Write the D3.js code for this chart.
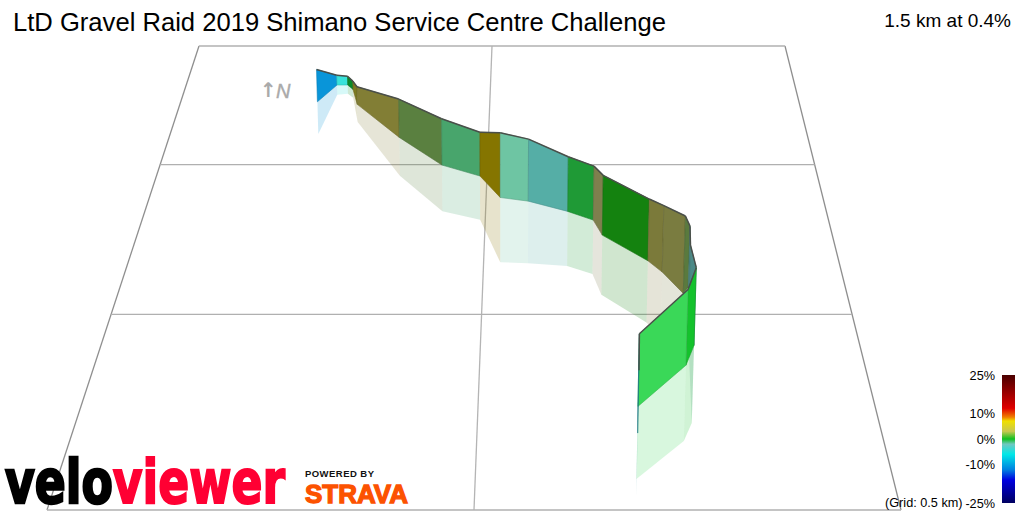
<!DOCTYPE html>
<html>
<head>
<meta charset="utf-8">
<title>LtD Gravel Raid 2019</title>
<script src="https://cdn.jsdelivr.net/npm/d3@7"></script>
<style>
  html, body { margin: 0; padding: 0; background: #fff; }
  svg { display: block; font-family: "Liberation Sans", Arial, sans-serif; }
</style>
</head>
<body>
<svg></svg>
<script>
// route: km east / km north of the grid corner, exaggerated height
var eastKm  = [.2211,.2478,.2654,.2753,.2863,.3604,.4307,.4895,.5210,.5626,.6205,.6573,.6692,.7313,.7498,.7756,.7835,.7847,.7815,.7678,.7013,.6985];
var northKm = [1.251,1.323,1.323,1.304,1.240,1.105,.998,.957,.879,.866,.830,.800,.749,.665,.629,.563,.582,.579,.411,.356,.247,.180];
var heightM = [52.1,15.9,14.3,13.6,28.4,60.0,70.7,66.1,96.2,91.8,80.1,78.6,85.9,86.9,92.7,106.1,84.1,59.2,102.4,98.3,91.5,77.5];

var wallColours = ["#0995d9","#38e2da","#0a8a2a","#7c7a20","#827e35","#5a8040","#48a56c","#857500","#6ec5a3","#55aea6","#1f9a36",
                   "#7f7f4e","#14820f","#7b7a3a","#7a7c40","#5a7a3e","#4d8a86","#4b8a87","#14c22c","#3ad858","#1f8a98"];

var gridEast  = [0, 0.5, 1];
var gridNorth = [0, 0.5, 1, 1.5];

var gradeTicks = [25, 10, 0, -10, -25];
var gradeStops = [
  [25, "#4a0000"], [12, "#e00000"], [8.5, "#f08000"], [7, "#f0e000"], [3, "#c8c850"], [0, "#10c020"],
  [-2, "#70c8c0"], [-6, "#00e8e8"], [-12, "#0080e0"], [-16, "#0000e0"], [-25, "#000060"]
];

var titleText = "LtD Gravel Raid 2019 Shimano Service Centre Challenge";
var summaryText = "1.5 km at 0.4%";
var gridText = "(Grid: 0.5 km)";

var width = 1024;
var height = 512;

var svg = d3.select("svg")
            .attr("width", width)
            .attr("height", height)
            .attr("viewBox", "0 0 1024 512");

// perspective: 1/width of the grid is linear with distance north
var invWidth = d3.scaleLinear().domain([0, 1.5]).range([1 / 854, 1 / 586]);
var rowY = d3.scaleLinear().domain([586, 854]).range([46, 510]);
var leftX = d3.scaleLinear().domain([46, 510]).range([199, 47]);
var heightScale = d3.scaleLinear().domain([0, 1000]).range([0, 1]);

function project(e, n, h){
  var w = 1 / invWidth(n);
  var y = rowY(w);
  var x = leftX(y) + e * w;
  var px = heightScale(h) * w;
  return [x + (x - 500) * px * 0.00015, y - px];
}

var line = d3.line();

// grid
var grid = svg.append("g").attr("fill", "none");
gridEast.forEach(function(e, i){
  grid.append("path")
      .attr("d", line([project(e, 0, 0), project(e, 1.5, 0)]))
      .attr("stroke", i == 1 ? "#b4b4b4" : "#8f8f8f")
      .attr("stroke-width", 1.3);
});
gridNorth.forEach(function(n){
  grid.append("path")
      .attr("d", line([project(0, n, 0), project(1, n, 0)]))
      .attr("stroke", "#b0b0b0")
      .attr("stroke-width", 1.3);
});

var segments = d3.range(wallColours.length);

function wall(i, sign){
  var a = i, b = i + 1;
  return line([
    project(eastKm[a], northKm[a], 0),
    project(eastKm[b], northKm[b], 0),
    project(eastKm[b], northKm[b], sign * heightM[b]),
    project(eastKm[a], northKm[a], sign * heightM[a])
  ]) + "Z";
}

// mirror image under the ground, then the walls back to front
svg.append("g")
   .selectAll("path")
   .data(segments)
   .enter()
   .append("path")
   .attr("d", function(i){ return wall(i, -1); })
   .attr("fill", function(i){ return wallColours[i]; })
   .attr("fill-opacity", 0.2);

svg.append("g")
   .selectAll("path")
   .data(segments)
   .enter()
   .append("path")
   .attr("d", function(i){ return wall(i, 1); })
   .attr("fill", function(i){ return wallColours[i]; })
   .attr("stroke", function(i){ return d3.color(wallColours[i]).darker(0.5); })
   .attr("stroke-width", 0.6);

// dark profile line along the top
svg.append("g")
   .selectAll("path")
   .data(segments)
   .enter()
   .append("path")
   .attr("d", function(i){
     return line([project(eastKm[i], northKm[i], heightM[i]), project(eastKm[i + 1], northKm[i + 1], heightM[i + 1])]);
   })
   .attr("fill", "none")
   .attr("stroke", "#4a4f4a")
   .attr("stroke-width", 1.5);

// titles
svg.append("text").attr("x", 13).attr("y", 31)
   .attr("font-size", 25.6).attr("fill", "#000").text(titleText);
svg.append("text").attr("x", 1011).attr("y", 27).attr("text-anchor", "end")
   .attr("font-size", 19).attr("fill", "#000").text(summaryText);

// north marker
svg.append("text").attr("x", 260).attr("y", 97)
   .attr("font-family", "DejaVu Sans").attr("font-weight", "bold")
   .attr("font-size", 20).attr("fill", "#aaa").text("↑");
svg.append("text").attr("x", 276).attr("y", 98)
   .attr("font-style", "italic").attr("font-size", 20).attr("fill", "#aaa")
   .attr("stroke", "#aaa").attr("stroke-width", 0.4).text("N");

// gradient legend
var gradeScale = d3.scaleLinear().domain([-25, 25]).range([503, 375]);
var defs = svg.append("defs");
var grad = defs.append("linearGradient")
               .attr("id", "gradeGrad")
               .attr("x1", 0).attr("x2", 0).attr("y1", 0).attr("y2", 1);
grad.selectAll("stop")
    .data(gradeStops)
    .enter()
    .append("stop")
    .attr("offset", function(d){ return (gradeScale(d[0]) - 375) / 128; })
    .attr("stop-color", function(d){ return d[1]; });

svg.append("rect")
   .attr("x", 1002).attr("y", gradeScale(25))
   .attr("width", 13).attr("height", gradeScale(-25) - gradeScale(25))
   .attr("fill", "url(#gradeGrad)");

var axis = d3.axisLeft(gradeScale)
             .tickValues(gradeTicks)
             .tickSize(0)
             .tickPadding(0)
             .tickFormat(function(d){ return d + "%"; });
var axisG = svg.append("g").attr("transform", "translate(995,0)").call(axis);
axisG.select(".domain").remove();
axisG.selectAll("text")
     .attr("font-family", "Liberation Sans")
     .attr("font-size", 12.7)
     .attr("fill", "#000");

svg.append("text").attr("x", 885).attr("y", 507)
   .attr("font-size", 12.7).attr("fill", "#000").text(gridText);

// logos
var logo = svg.append("g").attr("font-family", "Liberation Sans").attr("font-weight", "bold");
var brand = logo.append("text").attr("x", 5).attr("y", 503)
    .attr("font-family", "DejaVu Sans")
    .attr("font-size", 60)
    .attr("textLength", 280).attr("lengthAdjust", "spacingAndGlyphs");
brand.append("tspan").attr("fill", "#000").attr("stroke", "#000").attr("stroke-width", 2.5).text("velo");
brand.append("tspan").attr("fill", "#ff0033").attr("stroke", "#ff0033").attr("stroke-width", 2).text("viewer");
logo.append("text").attr("x", 305).attr("y", 477)
    .attr("font-size", 9.5).attr("fill", "#111").attr("letter-spacing", 1)
    .attr("textLength", 70).text("POWERED BY");
logo.append("text").attr("x", 305).attr("y", 503)
    .attr("font-size", 26).attr("fill", "#fc5200").attr("stroke", "#fc5200").attr("stroke-width", 1.3)
    .attr("textLength", 103).attr("lengthAdjust", "spacingAndGlyphs").text("STRAVA");
</script>
</body>
</html>
